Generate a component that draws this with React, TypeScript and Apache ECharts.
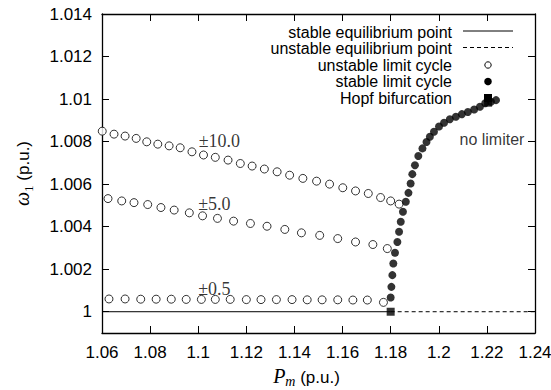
import React, { useEffect, useRef } from "react";
import * as echarts from "echarts";

// ---- data ----
const xMin = 1.06;
const xMax = 1.24;
const xInterval = 0.02;
const yMin = 0.999;
const yMax = 1.014;
const yTicks = [1, 1.002, 1.004, 1.006, 1.008, 1.01, 1.012, 1.014];

const eqStablePm = [1.06, 1.18];
const eqStableW = [1, 1];
const eqUnstablePm = [1.18, 1.24];
const eqUnstableW = [1, 1];

const lim10Pm = [1.0601, 1.065, 1.0696, 1.0742, 1.0786, 1.0832, 1.0879, 1.0925, 1.0974, 1.1022, 1.1071, 1.1124, 1.1175, 1.1224, 1.1275, 1.1328, 1.138, 1.1435, 1.1492, 1.1546, 1.1601, 1.1654, 1.1707, 1.1758, 1.18, 1.1835];
const lim10W = [1.00849, 1.00835, 1.00826, 1.00815, 1.00799, 1.00788, 1.0078, 1.00771, 1.00752, 1.00737, 1.00726, 1.00713, 1.00697, 1.00685, 1.00671, 1.00658, 1.00642, 1.00627, 1.00614, 1.006, 1.00583, 1.00568, 1.00556, 1.00537, 1.00521, 1.00506];

const lim5Pm = [1.0625, 1.0682, 1.0733, 1.079, 1.0845, 1.09, 1.0963, 1.1018, 1.108, 1.1147, 1.1217, 1.1286, 1.136, 1.1429, 1.1505, 1.158, 1.1654, 1.1726, 1.1786];
const lim5W = [1.00532, 1.00521, 1.00513, 1.00504, 1.0049, 1.00478, 1.00465, 1.00451, 1.00439, 1.00426, 1.00415, 1.00402, 1.00387, 1.00371, 1.00359, 1.00344, 1.00328, 1.00316, 1.00297];

const lim05Pm = [1.0629, 1.0696, 1.0761, 1.0825, 1.0888, 1.095, 1.1013, 1.1071, 1.1133, 1.12, 1.1261, 1.1325, 1.139, 1.1453, 1.1515, 1.158, 1.1643, 1.1703, 1.177];
const lim05W = [1.0006, 1.0006, 1.00059, 1.00059, 1.00059, 1.00058, 1.00058, 1.00058, 1.00058, 1.00057, 1.00057, 1.00057, 1.00057, 1.00056, 1.00056, 1.00056, 1.00055, 1.00055, 1.00044];

const stablePm = [1.18, 1.1803, 1.1807, 1.1811, 1.1818, 1.1828, 1.1835, 1.1842, 1.1851, 1.1863, 1.1874, 1.1883, 1.189, 1.1901, 1.1915, 1.1932, 1.1949, 1.1963, 1.198, 1.2001, 1.2022, 1.2046, 1.2071, 1.2096, 1.2121, 1.2147, 1.2171, 1.2193, 1.2217, 1.2238];
const stableW = [1.00067, 1.00117, 1.00172, 1.00227, 1.00277, 1.00328, 1.00376, 1.00423, 1.0047, 1.00517, 1.00559, 1.00603, 1.00647, 1.00689, 1.00732, 1.00768, 1.00798, 1.00823, 1.00846, 1.00871, 1.00889, 1.00905, 1.00917, 1.00929, 1.00939, 1.00951, 1.00964, 1.0098, 1.00987, 1.00995];

const hopfPm = [1.18, 1.2205];
const hopfW = [1.0, 1.00983];

const annoText = ["±10.0", "±5.0", "±0.5", "no limiter"];
const annoPm = [1.1088, 1.1067, 1.1067, 1.2221];
const annoW = [1.00802, 1.00506, 1.00106, 1.00812];

const legendLabels = [
  "stable equilibrium point",
  "unstable equilibrium point",
  "unstable limit cycle",
  "stable limit cycle",
  "Hopf bifurcation",
];

const zip = (a: number[], b: number[]) => a.map((v, i) => [v, b[i]]);
const fmt = (v: number) => String(parseFloat(Number(v).toFixed(4)));

const SANS = "Liberation Sans, Arial, Helvetica, sans-serif";
const SERIF = "Liberation Serif, Times New Roman, serif";

export default function App() {
  const ref = useRef<HTMLDivElement>(null);
  useEffect(() => {
    if (!ref.current) return;
    const chart = echarts.init(ref.current, undefined, { renderer: "svg" });

    const openCircle = {
      type: "scatter",
      symbol: "circle",
      symbolSize: 8,
      itemStyle: { color: "#fff", borderColor: "#000", borderWidth: 1 },
      clip: false,
      z: 3,
    };

    const axisCommon = {
      min: xMin,
      max: xMax,
      interval: xInterval,
      axisLine: { show: true, onZero: false, lineStyle: { color: "#000", width: 1.3 } },
      axisTick: { show: true, inside: true, length: 7, lineStyle: { color: "#000", width: 1 } },
      splitLine: { show: false },
    };
    const yCommon = {
      type: "value",
      min: yMin,
      max: yMax,
      axisLine: { show: true, onZero: false, lineStyle: { color: "#000", width: 1.3 } },
      axisTick: { show: true, inside: true, length: 7, customValues: yTicks, lineStyle: { color: "#000", width: 1 } },
      splitLine: { show: false },
    };

    // legend (graphic)
    const lx = 452;
    const rowY = [32, 48.5, 65, 81.5, 98];
    const legendGraphic: any[] = [];
    legendLabels.forEach((t, i) => {
      legendGraphic.push({
        type: "text",
        x: lx,
        y: rowY[i],
        style: { text: t, fill: "#000", font: `16px ${SANS}`, align: "right", verticalAlign: "middle" },
      });
    });
    legendGraphic.push({
      type: "line",
      shape: { x1: 463, y1: rowY[0] - 1, x2: 513, y2: rowY[0] - 1 },
      style: { stroke: "#000", lineWidth: 1 },
    });
    legendGraphic.push({
      type: "line",
      shape: { x1: 463, y1: rowY[1] - 1, x2: 513, y2: rowY[1] - 1 },
      style: { stroke: "#000", lineWidth: 1, lineDash: [4, 3] },
    });
    legendGraphic.push({
      type: "circle",
      shape: { cx: 488, cy: rowY[2], r: 3.2 },
      style: { fill: "#fff", stroke: "#000", lineWidth: 1 },
    });
    legendGraphic.push({
      type: "circle",
      shape: { cx: 488, cy: rowY[3], r: 3.8 },
      style: { fill: "#000" },
    });
    legendGraphic.push({
      type: "rect",
      shape: { x: 484, y: rowY[4] - 4, width: 8, height: 8 },
      style: { fill: "#000" },
    });

    const option: any = {
      animation: false,
      backgroundColor: "#fff",
      grid: { left: 102, right: 16, top: 14, bottom: 57, containLabel: false, outerBoundsMode: "none" },
      xAxis: [
        {
          type: "value",
          position: "bottom",
          ...axisCommon,
          axisLabel: { show: true, color: "#000", fontSize: 17, fontFamily: SANS, margin: 11, formatter: (v: number) => fmt(v) },
          name: "{p|P}{m|m}{t| (p.u.)}",
          nameLocation: "middle",
          nameGap: 32,
          nameTextStyle: {
            color: "#000",
            padding: [0, 24, 0, 0],
            rich: {
              p: { fontFamily: SERIF, fontStyle: "italic", fontSize: 20, color: "#000", lineHeight: 20, verticalAlign: "bottom" },
              m: { fontFamily: SERIF, fontStyle: "italic", fontSize: 14, color: "#000", lineHeight: 14, verticalAlign: "bottom", padding: [0, 0, -3, 0] },
              t: { fontFamily: SANS, fontSize: 17, color: "#000", lineHeight: 20, verticalAlign: "bottom" },
            },
          },
        },
        {
          type: "value",
          position: "top",
          ...axisCommon,
          axisLabel: { show: false },
        },
      ],
      yAxis: [
        {
          ...yCommon,
          position: "left",
          axisLabel: { show: true, color: "#000", fontSize: 17, fontFamily: SANS, margin: 10, customValues: yTicks, formatter: (v: number) => fmt(v) },
          name: "{w|ω}{s|1}{t| (p.u.)}",
          nameLocation: "middle",
          nameGap: 70,
          nameRotate: 90,
          nameTextStyle: {
            color: "#000",
            rich: {
              w: { fontFamily: SERIF, fontStyle: "italic", fontSize: 20, color: "#000", lineHeight: 20, verticalAlign: "bottom" },
              s: { fontFamily: SERIF, fontSize: 13, color: "#000", lineHeight: 14, verticalAlign: "bottom", padding: [0, 0, -3, 0] },
              t: { fontFamily: SANS, fontSize: 17, color: "#000", lineHeight: 20, verticalAlign: "bottom" },
            },
          },
        },
        {
          ...yCommon,
          position: "right",
          axisLabel: { show: false },
        },
      ],
      series: [
        {
          name: legendLabels[0],
          type: "line",
          data: zip(eqStablePm, eqStableW),
          symbol: "none",
          lineStyle: { color: "#000", width: 1 },
          z: 2,
        },
        {
          name: legendLabels[1],
          type: "line",
          data: zip(eqUnstablePm, eqUnstableW),
          symbol: "none",
          lineStyle: { color: "#000", width: 1, type: [4, 3] },
          z: 2,
        },
        { ...openCircle, name: "lim10", data: zip(lim10Pm, lim10W) },
        { ...openCircle, name: "lim5", data: zip(lim5Pm, lim5W) },
        { ...openCircle, name: "lim05", data: zip(lim05Pm, lim05W) },
        {
          name: legendLabels[3],
          type: "scatter",
          symbol: "circle",
          symbolSize: 8,
          itemStyle: { color: "#000" },
          data: zip(stablePm, stableW),
          clip: false,
          z: 4,
        },
        {
          name: legendLabels[4],
          type: "scatter",
          symbol: "rect",
          symbolSize: 8,
          itemStyle: { color: "#000" },
          data: zip(hopfPm, hopfW),
          clip: false,
          z: 5,
        },
        {
          name: "annotations",
          type: "scatter",
          symbolSize: 1,
          itemStyle: { color: "transparent" },
          data: annoText.map((t, i) => ({ name: t, value: [annoPm[i], annoW[i]] })),
          label: {
            show: true,
            position: "inside",
            formatter: (p: any) => p.name,
            color: "#000",
            fontSize: 18,
            fontFamily: SERIF,
          },
          z: 6,
        },
      ],
      graphic: legendGraphic,
    };
    // the last annotation ("no limiter") is sans-serif
    option.series[7].data[3].label = { fontFamily: SANS, fontSize: 16 };

    chart.setOption(option);
    return () => chart.dispose();
  }, []);
  return <div ref={ref} style={{ position: "absolute", left: 0, top: 0, width: 551, height: 390 }} />;
}
